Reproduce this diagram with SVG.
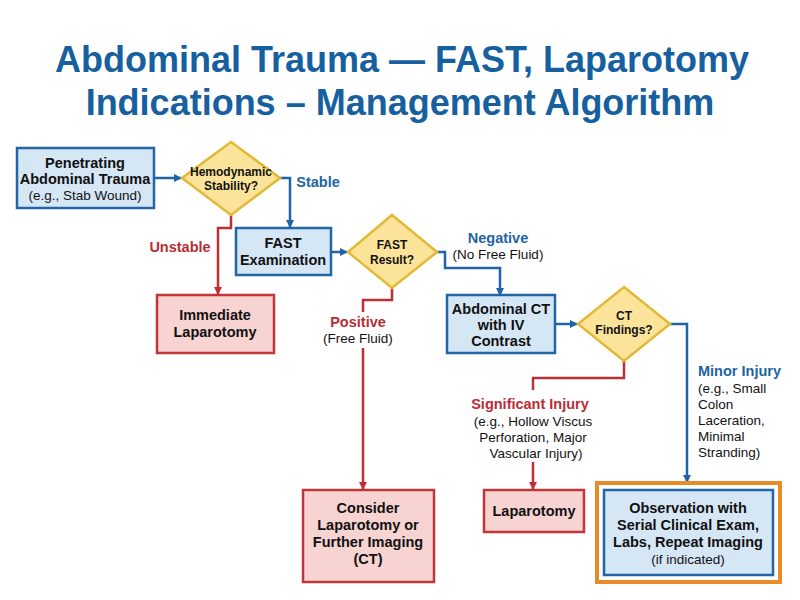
<svg xmlns="http://www.w3.org/2000/svg" width="800" height="600" viewBox="0 0 800 600">
<style>
text{font-family:"Liberation Sans",Arial,sans-serif;text-anchor:middle}
.t{font-size:36px;font-weight:bold;fill:#17609f}
.b{font-size:14.5px;font-weight:bold;fill:#111}
.d{font-size:12px;font-weight:bold;fill:#111}
.n{font-size:13.5px;fill:#111}
.blue{fill:#d5e6f5;stroke:#2366a8;stroke-width:2.5}
.red{fill:#f7d3d1;stroke:#c1353b;stroke-width:2.5}
.dia{fill:#fbe49a;stroke:#e2b935;stroke-width:2.5}
.lb{font-size:14.5px;font-weight:bold;fill:#1d64a3}
.lr{font-size:14.5px;font-weight:bold;fill:#b92d35}
.cb{fill:none;stroke:#1f64a6;stroke-width:2.5}
.cr{fill:none;stroke:#bd2f36;stroke-width:2.5}
</style>
<defs>
<marker id="ab" markerWidth="8" markerHeight="8" refX="7" refY="4" orient="auto" markerUnits="userSpaceOnUse"><path d="M0,0L8,4L0,8z" fill="#1f64a6"/></marker>
<marker id="ar" markerWidth="8" markerHeight="8" refX="7" refY="4" orient="auto" markerUnits="userSpaceOnUse"><path d="M0,0L8,4L0,8z" fill="#bd2f36"/></marker>
</defs>
<rect width="800" height="600" fill="#fff"/>
<text class="t" x="402" y="72">Abdominal Trauma — FAST, Laparotomy</text>
<text class="t" x="400" y="115">Indications – Management Algorithm</text>

<g id="connectors">
<path class="cb" d="M154,178H181" marker-end="url(#ab)"/>
<path class="cb" d="M280,178H290V227" marker-end="url(#ab)"/>
<path class="cr" d="M231,215V228H218V294" marker-end="url(#ar)"/>
<path class="cb" d="M331,252H347" marker-end="url(#ab)"/>
<path class="cb" d="M437,252H445V268H500V295" marker-end="url(#ab)"/>
<path class="cr" d="M392,288V300H363V312M363,348V489" marker-end="url(#ar)"/>
<path class="cb" d="M555,324H577" marker-end="url(#ab)"/>
<path class="cb" d="M670,324H687V482" marker-end="url(#ab)"/>
<path class="cr" d="M624,361V378H533V390M533,462V489" marker-end="url(#ar)"/>
<text class="lb" x="318" y="187">Stable</text>
<text class="lr" x="180" y="252">Unstable</text>
<text class="lb" x="498" y="243">Negative</text>
<text class="n" x="498" y="259">(No Free Fluid)</text>
<text class="lr" x="358" y="327">Positive</text>
<text class="n" x="358" y="343">(Free Fluid)</text>
<text class="lr" x="530" y="409">Significant Injury</text>
<text class="n" x="533" y="426">(e.g., Hollow Viscus</text>
<text class="n" x="533" y="442">Perforation, Major</text>
<text class="n" x="536" y="458">Vascular Injury)</text>
<text class="lb" x="698" y="376" style="text-anchor:start">Minor Injury</text>
<text class="n" x="698" y="393" style="text-anchor:start">(e.g., Small</text>
<text class="n" x="698" y="409" style="text-anchor:start">Colon</text>
<text class="n" x="698" y="425" style="text-anchor:start">Laceration,</text>
<text class="n" x="698" y="441" style="text-anchor:start">Minimal</text>
<text class="n" x="698" y="457" style="text-anchor:start">Stranding)</text>
</g>

<g id="penetrating"><rect class="blue" x="17" y="148" width="137" height="60"/>
<text class="b" x="85" y="168">Penetrating</text><text class="b" x="85" y="184">Abdominal Trauma</text><text class="n" x="85" y="200">(e.g., Stab Wound)</text></g>
<g id="hemo"><polygon class="dia" points="231,142 280,178 231,215 182,178"/>
<text class="d" x="231" y="176">Hemodynamic</text><text class="d" x="231" y="190">Stability?</text></g>
<g id="fast"><rect class="blue" x="236" y="228" width="95" height="47"/>
<text class="b" x="283" y="248">FAST</text><text class="b" x="283" y="265">Examination</text></g>
<g id="fastres"><polygon class="dia" points="392,215 437,252 392,288 348,252"/>
<text class="d" x="392" y="249">FAST</text><text class="d" x="392" y="264">Result?</text></g>
<g id="immediate"><rect class="red" x="157" y="295" width="117" height="58"/>
<text class="b" x="215" y="320">Immediate</text><text class="b" x="215" y="337">Laparotomy</text></g>
<g id="ct"><rect class="blue" x="447" y="295" width="108" height="58"/>
<text class="b" x="501" y="314">Abdominal CT</text><text class="b" x="501" y="330">with IV</text><text class="b" x="501" y="346">Contrast</text></g>
<g id="ctfind"><polygon class="dia" points="624,287 670,324 624,361 578,324"/>
<text class="d" x="624" y="320">CT</text><text class="d" x="624" y="334">Findings?</text></g>
<g id="consider"><rect class="red" x="303" y="490" width="131" height="92"/>
<text class="b" x="368" y="513">Consider</text><text class="b" x="368" y="530">Laparotomy or</text><text class="b" x="368" y="547">Further Imaging</text><text class="b" x="368" y="564">(CT)</text></g>
<g id="laparotomy"><rect class="red" x="484" y="490" width="100" height="42"/>
<text class="b" x="534" y="516">Laparotomy</text></g>
<g id="observation"><rect x="597" y="483" width="183" height="99" fill="#fff" stroke="#e98a2b" stroke-width="4"/>
<rect class="blue" x="604" y="490" width="169" height="85"/>
<text class="b" x="688" y="513">Observation with</text><text class="b" x="688" y="530">Serial Clinical Exam,</text><text class="b" x="688" y="547">Labs, Repeat Imaging</text><text class="n" x="688" y="564">(if indicated)</text></g>
</svg>
